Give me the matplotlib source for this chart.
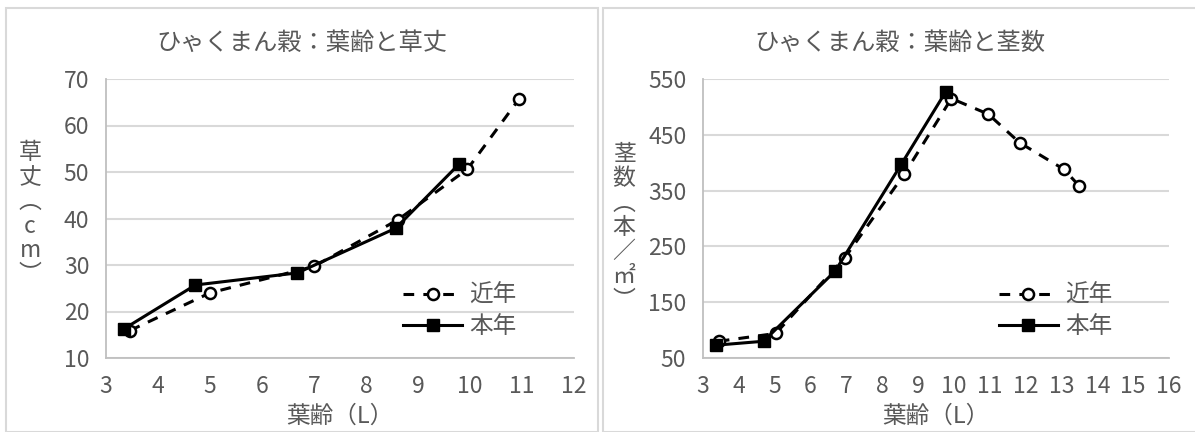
import matplotlib
matplotlib.use("Agg")
import matplotlib.pyplot as plt
from matplotlib.patches import Rectangle

plt.rcParams['font.family'] = ['Noto Sans CJK JP', 'DejaVu Sans']

# 草丈 (cm)
leaf_recent_h = [3.46, 5.0, 7.0, 8.61, 9.95, 10.95]
height_recent = [15.9, 24.0, 29.7, 39.7, 50.6, 65.8]
leaf_this_h = [3.35, 4.72, 6.68, 8.57, 9.79]
height_this = [16.3, 25.7, 28.3, 37.9, 51.7]

# 茎数 (本/㎡)
leaf_recent_s = [3.44, 5.03, 6.96, 8.61, 9.93, 10.96, 11.83, 13.07, 13.5]
stems_recent = [80, 94, 230, 379, 515, 487, 436, 388, 358]
leaf_this_s = [3.37, 4.69, 6.69, 8.53, 9.77]
stems_this = [73, 80, 206, 397, 527]

TXT = '#595959'
GRID = '#d9d9d9'
W, H = 1195, 432

fig = plt.figure(figsize=(W / 100, H / 100), dpi=100)

# chart frames
fig.add_artist(Rectangle((5.5 / W, 0), (598 - 5.5) / W, 1 - 8 / H,
                         transform=fig.transFigure, fill=False, ec=GRID, lw=1.5))
fig.add_artist(Rectangle((603 / W, 0), (1200 - 603) / W, 1 - 8 / H,
                         transform=fig.transFigure, fill=False, ec=GRID, lw=1.5))

ax1 = fig.add_axes([106 / W, 1 - 358 / H, (574 - 106) / W, (358 - 79) / H])
ax2 = fig.add_axes([703 / W, 1 - 358 / H, (1169 - 703) / W, (358 - 79) / H])


def draw(ax, xr, yr, xt, yt):
    ax.plot(xr, yr, color='black', lw=2.2, dashes=(3.5, 3), marker='o', ms=8,
            mfc='white', mec='black', mew=1.8, label='近年', zorder=3)
    ax.plot(xt, yt, color='black', lw=2.2, marker='s', ms=9,
            mfc='black', mec='black', label='本年', zorder=4)
    for s in ['top', 'right']:
        ax.spines[s].set_visible(False)
    for s in ['left', 'bottom']:
        ax.spines[s].set_color('#bfbfbf')
        ax.spines[s].set_linewidth(1.3)
    ax.grid(axis='y', color=GRID, lw=1.5)
    ax.set_axisbelow(True)
    ax.tick_params(length=0, labelsize=16.5, colors=TXT)
    ax.tick_params(axis='y', pad=12)
    ax.tick_params(axis='x', pad=12)
    ax.set_xlabel('葉齢（L）', fontsize=17, color=TXT, labelpad=5)
    ax.legend(loc='center left', bbox_to_anchor=(0.635, 0.168), frameon=False,
              fontsize=17, labelcolor=TXT, handlelength=2.5, handletextpad=0.3,
              borderpad=0, borderaxespad=0, labelspacing=0.35)


draw(ax1, leaf_recent_h, height_recent, leaf_this_h, height_this)
ax1.set_xlim(3, 12)
ax1.set_ylim(10, 70)
ax1.set_xticks(range(3, 13))
ax1.set_yticks(range(10, 71, 10))

draw(ax2, leaf_recent_s, stems_recent, leaf_this_s, stems_this)
ax2.set_xlim(3, 16)
ax2.set_ylim(50, 550)
ax2.set_xticks(range(3, 17))
ax2.set_yticks(range(50, 551, 100))

fig.text(302 / W, 1 - 43 / H, 'ひゃくまん穀：葉齢と草丈', ha='center', va='center',
         fontsize=17.5, color=TXT)
fig.text(900 / W, 1 - 43 / H, 'ひゃくまん穀：葉齢と茎数', ha='center', va='center',
         fontsize=17.5, color=TXT)

# vertical axis titles
fig.text(30 / W, 1 - 214 / H, '\n'.join(['草', '丈', '︵', 'c', 'm', '︶']),
         ha='center', va='center', fontsize=16.5, color=TXT, linespacing=1.08)
fig.text(624 / W, 1 - 227.5 / H, '\n'.join(['茎', '数', '︵', '本', '／', '㎡', '︶']),
         ha='center', va='center', fontsize=16.5, color=TXT, linespacing=1.08)

fig.savefig('out.png', dpi=100)
